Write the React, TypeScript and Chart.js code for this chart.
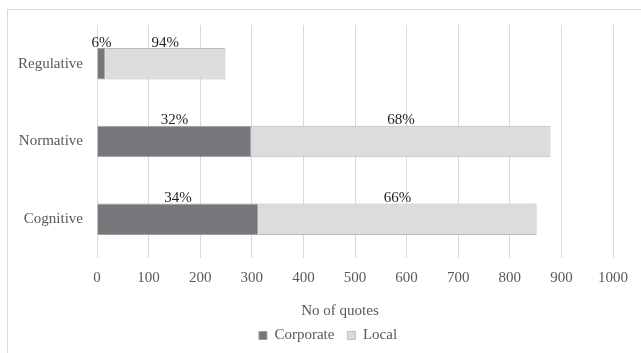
import React, { useEffect, useRef } from "react";
import { Chart, registerables } from "chart.js";

Chart.register(...registerables);

const categories = ["Regulative", "Normative", "Cognitive"];
const seriesNames = ["Corporate", "Local"];
const corporate = [16, 299, 313];
const local = [233, 580, 539];
const corporatePct = ["6%", "32%", "34%"];
const localPct = ["94%", "68%", "66%"];
const xMin = 0;
const xMax = 1000;
const xStep = 100;
const axisTitle = "No of quotes";

const FONT = "'Liberation Serif', 'Times New Roman', serif";
const GREY_TEXT = "#595959";

const pctLabelPlugin = {
  id: "pctLabels",
  afterDatasetsDraw(chart: any) {
    const ctx = chart.ctx;
    const labelSets = [corporatePct, localPct];
    ctx.save();
    ctx.font = `15px ${FONT}`;
    ctx.fillStyle = "#1f1f1f";
    ctx.textAlign = "center";
    ctx.textBaseline = "alphabetic";
    chart.data.datasets.forEach((_ds: any, di: number) => {
      const meta = chart.getDatasetMeta(di);
      meta.data.forEach((el: any, i: number) => {
        const p = el.getProps(["x", "y", "base", "height"], true);
        const cx = (p.x + p.base) / 2;
        const top = p.y - p.height / 2;
        ctx.fillText(labelSets[di][i], cx, top - 1.5);
      });
    });
    ctx.restore();
  },
};

const axisTitlePlugin = {
  id: "axisTitleText",
  afterDraw(chart: any) {
    const ctx = chart.ctx;
    const xs = chart.scales.x;
    ctx.save();
    ctx.font = `15px ${FONT}`;
    ctx.fillStyle = GREY_TEXT;
    ctx.textAlign = "center";
    ctx.textBaseline = "middle";
    const cx = (xs.left + xs.right) / 2 - 15;
    ctx.fillText(axisTitle, cx, xs.bottom - 4);
    ctx.restore();
  },
};

export default function App() {
  const ref = useRef<HTMLCanvasElement | null>(null);

  useEffect(() => {
    if (!ref.current) return;
    const chart = new Chart(ref.current, {
      type: "bar",
      data: {
        labels: categories,
        datasets: [
          {
            label: seriesNames[0],
            data: corporate,
            backgroundColor: "#77777b",
            borderColor: "#9e9ea0",
            borderWidth: 1,
            barPercentage: 1,
            categoryPercentage: 0.405,
          },
          {
            label: seriesNames[1],
            data: local,
            backgroundColor: "#dcdcde",
            borderColor: "#bcbcbe",
            borderWidth: 1,
            barPercentage: 1,
            categoryPercentage: 0.405,
          },
        ],
      },
      options: {
        indexAxis: "y",
        responsive: false,
        animation: false,
        layout: { padding: { top: 25, left: 15, right: 0, bottom: 0 } },
        scales: {
          x: {
            type: "linear",
            stacked: true,
            min: xMin,
            max: xMax,
            grid: { color: "#d9d9d9", drawTicks: false, lineWidth: 1 },
            border: { display: false },
            ticks: {
              stepSize: xStep,
              color: GREY_TEXT,
              font: { family: FONT, size: 15 },
              padding: 11,
              maxRotation: 0,
              callback: (v: any) => String(v),
            },
            afterFit(scale: any) {
              scale.height = 57;
            },
          },
          y: {
            type: "category",
            stacked: true,
            grid: { display: false, drawTicks: false },
            border: { display: false },
            ticks: {
              color: GREY_TEXT,
              font: { family: FONT, size: 15 },
              padding: 14,
            },
            afterFit(scale: any) {
              scale.width = 82;
            },
          },
          yRight: {
            type: "linear",
            position: "right",
            display: true,
            grid: { display: false, drawTicks: false },
            border: { display: false },
            ticks: { display: false },
            afterFit(scale: any) {
              scale.width = 28;
            },
          },
        },
        plugins: {
          legend: {
            position: "bottom",
            labels: {
              boxWidth: 8,
              boxHeight: 8,
              padding: 13,
              color: GREY_TEXT,
              font: { family: FONT, size: 15 },
            },
          },
          tooltip: { enabled: false },
        },
      },
      plugins: [pctLabelPlugin, axisTitlePlugin],
    } as any);
    return () => chart.destroy();
  }, []);

  return (
    <div
      style={{
        position: "fixed",
        left: 0,
        top: 0,
        width: 641,
        height: 353,
        overflow: "hidden",
        background: "#ffffff",
      }}
    >
      <div
        style={{
          position: "absolute",
          left: 7,
          top: 9,
          width: 700,
          height: 400,
          borderLeft: "1px solid #d9d9d9",
          borderTop: "1px solid #d9d9d9",
        }}
      />
      <canvas
        ref={ref}
        width={641}
        height={353}
        style={{ position: "absolute", left: 0, top: 0, width: 641, height: 353 }}
      />
    </div>
  );
}
